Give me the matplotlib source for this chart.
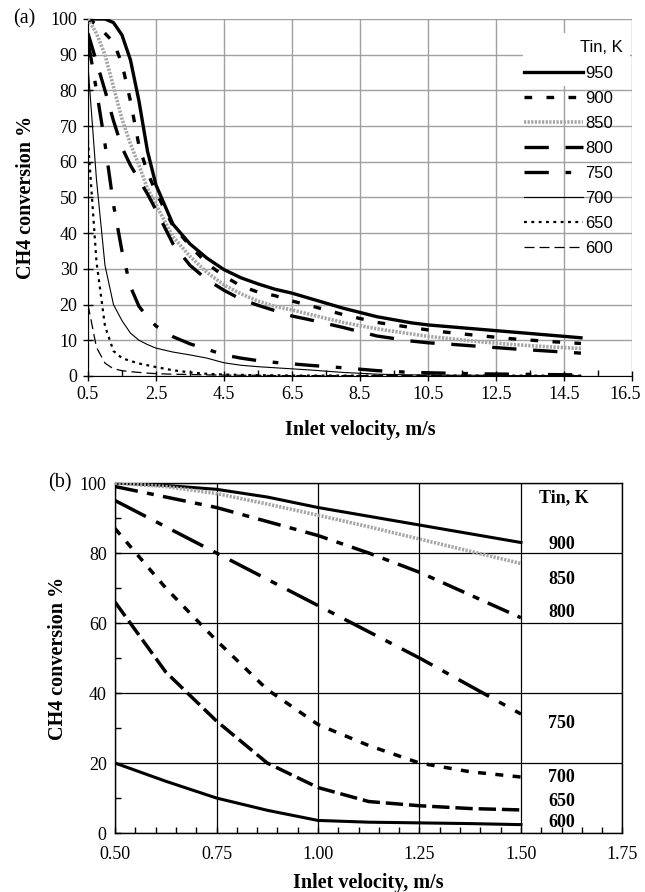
import matplotlib
matplotlib.use("Agg")
import matplotlib.pyplot as plt
import matplotlib.transforms as mtransforms
from matplotlib.patches import Rectangle
import numpy as np

plt.rcParams['font.family'] = ['Liberation Serif', 'DejaVu Serif']

# ---- panel (a): full velocity range ----
vel_a = [0.5, 0.75, 1.0, 1.25, 1.5, 1.75, 2.0, 2.25, 2.5, 3.0, 3.5, 4.0, 4.5, 5.0,
         5.5, 6.0, 6.5, 7.0, 8.0, 9.0, 10.0, 10.5, 11.0, 12.0, 13.0, 14.0, 15.0]
conv_950 = [100, 100, 100, 99, 95.5, 88.5, 77, 63, 53.5, 42.5, 37, 33, 29.8, 27.5,
            25.8, 24.3, 23.2, 21.8, 19, 16.6, 14.9, 14.3, 13.9, 13.1, 12.3, 11.5, 10.7]
conv_900 = [100, 98.5, 96, 93.5, 87.5, 77, 64.5, 57, 51.5, 42, 36.5, 31.5, 28, 25.2,
            23.5, 22.5, 21, 19.8, 17.2, 15, 13.6, 12.9, 12.3, 11.3, 10.4, 9.7, 9.1]
conv_850 = [100, 96, 90, 81, 72, 65, 59, 52.5, 48, 39, 33.5, 29, 25.5, 23,
            21, 19.5, 18.5, 17.3, 15, 13.2, 11.8, 11.1, 10.6, 9.6, 8.8, 8.2, 7.7]
conv_800 = [96, 88, 80, 71.5, 64, 59, 55, 51, 46.5, 37, 31, 27, 24, 21.5,
            19.8, 18.3, 16.8, 15.8, 13.6, 11.2, 9.8, 9.3, 9.0, 8.3, 7.6, 7.0, 6.4]
conv_750 = [94, 80, 65, 48, 35, 25, 19.5, 16.5, 14, 11, 9, 7.5, 5.9, 5,
            4.3, 3.8, 3.4, 3.0, 2.3, 1.5, 1.0, 0.9, 0.8, 0.6, 0.5, 0.4, 0.3]
conv_700 = [87, 55, 31, 20, 15.5, 12, 10, 8.8, 7.8, 6.7, 5.9, 5.0, 3.7, 3.0,
            2.6, 2.3, 2.0, 1.7, 1.0, 0.5, 0.3, 0.3, 0.2, 0.2, 0.1, 0.1, 0.1]
conv_650 = [66, 32, 14, 7, 5, 4.2, 3.5, 3.0, 2.5, 1.6, 1.0, 0.6, 0.4, 0.3,
            0.2, 0.2, 0.1, 0.1, 0.1, 0.1, 0.1, 0.1, 0.1, 0.1, 0.1, 0.1, 0.1]
conv_600 = [20, 8, 3.6, 2.0, 1.5, 1.2, 1.0, 0.8, 0.65, 0.5, 0.4, 0.3, 0.25, 0.2,
            0.2, 0.1, 0.1, 0.1, 0.1, 0.1, 0.1, 0.1, 0.1, 0.1, 0.1, 0.1, 0.1]
temps_a = ['950', '900', '850', '800', '750', '700', '650', '600']

# ---- panel (b): low velocity range ----
vel_b = [0.5, 0.625, 0.75, 0.875, 1.0, 1.125, 1.25, 1.375, 1.5]
b_900 = [100, 99.3, 98.2, 96, 93, 90.5, 88, 85.5, 83]
b_850 = [100, 99, 97, 94, 90.8, 87.5, 84, 80.5, 77]
b_800 = [99, 96, 93, 89, 85, 80, 74.5, 68, 61.5]
b_750 = [95, 87.5, 80, 72.5, 65, 57.5, 50, 42, 34]
b_700 = [87, 70, 55, 41, 31, 25, 20, 17.5, 16]
b_650 = [66, 46, 32, 20, 13, 9, 7.8, 7, 6.6]
b_600 = [20, 14.8, 10, 6.5, 3.6, 3.1, 2.9, 2.7, 2.4]
temps_b = ['900', '850', '800', '750', '700', '650', '600']
label_y_b = [82.3, 72.3, 62.9, 31.4, 16, 9.1, 2.9]

fig = plt.figure(figsize=(6.45, 8.92), dpi=100)
ax1 = fig.add_axes([0.1364, 0.5785, 0.8434, 0.4002])
ax2 = fig.add_axes([0.1783, 0.0661, 0.7868, 0.3924])

# styles for panel (a)
styles_a = [
    dict(color='black', lw=2.4, ls='-'),
    dict(color='black', lw=2.4, ls=(0, (2.3, 4.3))),
    dict(color='#a5a5a5', lw=2.6, ls=(0, (0.6, 0.4))),
    dict(color='black', lw=2.4, ls=(0, (7.3, 5))),
    dict(color='black', lw=2.4, ls=(0, (7.3, 5, 1.7, 5))),
    dict(color='black', lw=0.8, ls='-'),
    dict(color='black', lw=1.6, ls=(0, (1.3, 2))),
    dict(color='black', lw=0.9, ls=(0, (8, 4))),
]
series_a = [conv_950, conv_900, conv_850, conv_800, conv_750, conv_700, conv_650, conv_600]
for t, ys, st in zip(temps_a, series_a, styles_a):
    ax1.plot(vel_a, ys, label=t, zorder=3, **st)

ax1.set_xlim(0.5, 16.5)
ax1.set_ylim(0, 100)
ax1.set_xticks(np.arange(0.5, 16.6, 2))
ax1.set_xticklabels([f'{v:.1f}' for v in np.arange(0.5, 16.6, 2)])
ax1.set_xticks(np.arange(1.5, 16, 2), minor=True)
ax1.set_yticks(np.arange(0, 101, 10))
ax1.set_axisbelow(True)
ax1.grid(True, which='major', color='#a0a0a0', lw=1.0)
ax1.spines['top'].set_visible(False)
ax1.spines['right'].set_visible(False)
ax1.tick_params(which='major', direction='inout', length=7, width=1, labelsize=13, pad=4)
ax1.tick_params(which='minor', direction='in', length=4, width=1)
ax1.set_xlabel('Inlet velocity, m/s', fontsize=14.5, fontweight='bold')
ax1.set_ylabel('CH4 conversion %', fontsize=14.5, fontweight='bold')
ax1.xaxis.set_label_coords(0.5, -0.123)
ax1.yaxis.set_label_coords(-0.095, 0.5)

# keep the last x label inside the figure edge
last = ax1.get_xticklabels()[-1]
last.set_transform(last.get_transform() +
                   mtransforms.ScaledTranslation(-5 / 72, 0, fig.dpi_scale_trans))

# white patch behind legend title
ax1.add_patch(Rectangle((0.80, 0.812), 0.197, 0.149, transform=ax1.transAxes,
                        facecolor='white', edgecolor='none', zorder=1))
ax1.text(0.983, 0.919, 'Tin, K', transform=ax1.transAxes, ha='right', va='center',
         fontsize=12, family='Liberation Sans', zorder=4)
leg = ax1.legend(loc='upper right', bbox_to_anchor=(0.965, 0.868), frameon=False,
                 prop={'family': 'Liberation Sans', 'size': 12}, handlelength=3.5,
                 handletextpad=0.15, labelspacing=0.6, borderaxespad=0, borderpad=0)

# styles for panel (b)
styles_b = [
    dict(color='black', lw=2.2, ls='-'),
    dict(color='#a5a5a5', lw=2.6, ls=(0, (0.6, 0.4))),
    dict(color='black', lw=2.5, ls=(0, (6.7, 2.7, 2, 2.7))),
    dict(color='black', lw=2.5, ls=(0, (10, 3.3, 2, 3.3))),
    dict(color='black', lw=2.5, ls=(0, (2.3, 2.7))),
    dict(color='black', lw=2.5, ls=(0, (5, 1.7))),
    dict(color='black', lw=2.2, ls='-'),
]
series_b = [b_900, b_850, b_800, b_750, b_700, b_650, b_600]
for t, ys, st, ly in zip(temps_b, series_b, styles_b, label_y_b):
    ax2.plot(vel_b, ys, zorder=3, **st)
    ax2.text(1.6, ly, t, ha='center', va='center', fontsize=13, fontweight='bold')
ax2.text(1.606, 95.7, 'Tin, K', ha='center', va='center', fontsize=13, fontweight='bold')

ax2.set_xlim(0.5, 1.75)
ax2.set_ylim(0, 100)
ax2.set_xticks(np.arange(0.5, 1.76, 0.25))
ax2.set_xticklabels([f'{v:.2f}' for v in np.arange(0.5, 1.76, 0.25)])
ax2.set_xticks(np.arange(0.5, 1.751, 0.05), minor=True)
ax2.set_yticks(np.arange(0, 101, 20))
ax2.set_yticks(np.arange(10, 100, 20), minor=True)
ax2.set_axisbelow(True)
ax2.grid(True, which='major', color='black', lw=0.9)
for s in ax2.spines.values():
    s.set_linewidth(1.0)
ax2.tick_params(which='major', direction='in', length=4, width=1, labelsize=13)
ax2.tick_params(axis='x', which='major', pad=9)
ax2.tick_params(axis='y', which='major', pad=6)
ax2.tick_params(which='minor', direction='in', length=4, width=1)
ax2.set_xlabel('Inlet velocity, m/s', fontsize=14.5, fontweight='bold')
ax2.set_ylabel('CH4 conversion %', fontsize=14.5, fontweight='bold')
ax2.xaxis.set_label_coords(0.5, -0.114)
ax2.yaxis.set_label_coords(-0.0926, 0.5)

fig.text(0.02, 0.9787, '(a)', fontsize=14.5, ha='left', va='center')
fig.text(0.0744, 0.4585, '(b)', fontsize=14.5, ha='left', va='center')

fig.savefig('out.png', dpi=100)
